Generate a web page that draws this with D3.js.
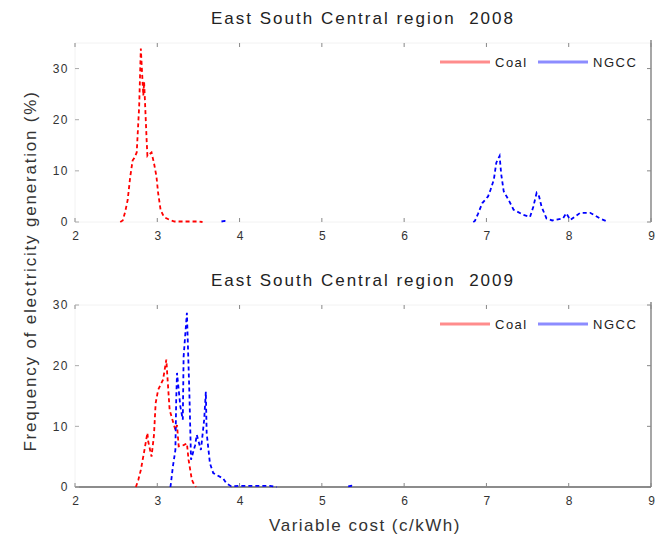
<!DOCTYPE html>
<html><head><meta charset="utf-8">
<script src="https://cdn.jsdelivr.net/npm/d3@7"></script>
<style>body{margin:0;background:#fff}svg{font-family:"Liberation Sans",Arial,sans-serif}text{white-space:pre}</style>
</head><body><svg id="c" width="657" height="543"></svg>
<script>
const xTicks = [2,3,4,5,6,7,8,9];
const yTicksTop = [0,10,20,30];
const yTicksBottom = [0,10,20,30];
const titles = ["East South Central region  2008", "East South Central region  2009"];
const seriesNames = ["Coal", "NGCC"];
const seriesColors = ["#ff0000", "#0000ff"];

// null marks a gap in a series
const coal2008X = [2.55,2.58,2.61,2.64,2.67,2.70,2.72,2.75,2.78,2.80,2.83,2.84,2.87,2.88,2.93,2.96,2.99,3.01,3.04,3.08,3.15,3.21,3.30,3.40,3.50,3.55];
const coal2008Y = [0,0.3,2,4.3,8.7,12,12.5,13.6,22.7,33.9,24.7,27.4,16.2,12.9,13.6,11.5,8.9,5.7,2.4,1.0,0.4,0.1,0.1,0.1,0.1,0];
const ngcc2008X = [3.78,3.82,3.86,5.0,6.84,6.86,6.90,6.95,7.02,7.05,7.09,7.12,7.16,7.18,7.21,7.27,7.33,7.45,7.53,7.57,7.61,7.64,7.67,7.73,7.80,7.93,7.97,8.02,8.14,8.26,8.38,8.48];
const ngcc2008Y = [0.1,0.2,0.1,null,0,0.2,1.7,3.7,5,6.3,8.3,11.6,12.9,9.3,6,4.3,2.4,1.4,1,3,5.7,5,3,0.7,0.3,0.7,1.7,0.4,1.8,1.8,0.7,0];
const coal2009X = [2.74,2.77,2.80,2.84,2.88,2.89,2.93,2.96,2.98,3.01,3.07,3.11,3.12,3.15,3.22,3.24,3.26,3.32,3.36,3.38,3.42,3.44,3.47];
const coal2009Y = [0,1.2,2.8,5.8,8.9,7.5,5,8.6,13.8,16,17.7,21,18.8,12.7,9.4,10.2,6.7,6.9,7.2,4.5,1.2,0.6,0];
const ngcc2009X = [3.16,3.19,3.22,3.23,3.24,3.28,3.31,3.32,3.36,3.39,3.41,3.46,3.48,3.53,3.57,3.59,3.60,3.64,3.68,3.80,3.84,3.90,4.00,4.20,4.37,4.45,4.9,5.32,5.36,5.40];
const ngcc2009Y = [0,3.4,6.1,14.4,18.8,13.3,11.1,21.5,28.7,15.5,4.5,6.9,8.6,6.1,11.1,15.7,8.9,3.9,2.3,1.4,0.6,0.1,0.2,0.2,0.2,0,null,0.1,0.2,0.1];

const panels = [
  {title: titles[0], yMax: 35, yTicks: yTicksTop, top: 43, bottom: 222, series: [[coal2008X, coal2008Y],[ngcc2008X, ngcc2008Y]], showXAxisLine: false},
  {title: titles[1], yMax: 30, yTicks: yTicksBottom, top: 305, bottom: 487, series: [[coal2009X, coal2009Y],[ngcc2009X, ngcc2009Y]], showXAxisLine: true}
];

const svg = d3.select("#c");
const left = 75, right = 651;
const x = d3.scaleLinear().domain([2,9]).range([left,right]);

panels.forEach(p => {
  const y = d3.scaleLinear().domain([0,p.yMax]).range([p.bottom,p.top]);
  const g = svg.append("g");
  g.append("line").attr("x1",left).attr("x2",right).attr("y1",p.top).attr("y2",p.top).attr("stroke","#f2f2f2");
  g.append("line").attr("x1",left).attr("x2",left).attr("y1",p.top).attr("y2",p.bottom).attr("stroke","#f2f2f2");
  g.append("line").attr("x1",right).attr("x2",right).attr("y1",p.top-3).attr("y2",p.bottom).attr("stroke","#777").attr("stroke-width",1.3);
  g.append("line").attr("x1",left).attr("x2",right).attr("y1",p.bottom).attr("y2",p.bottom)
    .attr("stroke", p.showXAxisLine ? "#666" : "#f2f2f2").attr("stroke-width", p.showXAxisLine ? 1.5 : 1);
  const xa = d3.axisBottom(x).tickValues(xTicks).tickSize(0).tickPadding(9).tickFormat(d3.format("d"));
  const xg = g.append("g").attr("transform",`translate(0,${p.bottom})`).call(xa);
  xg.select(".domain").remove();
  xg.selectAll("text").attr("font-size",12).attr("fill","#333").attr("font-family","Liberation Sans, Arial");
  xTicks.forEach(t => {
    g.append("line").attr("x1",x(t)).attr("x2",x(t)).attr("y1",p.bottom).attr("y2",p.bottom-4).attr("stroke","#888");
    g.append("line").attr("x1",x(t)).attr("x2",x(t)).attr("y1",p.top).attr("y2",p.top+4).attr("stroke","#888");
  });
  const ya = d3.axisLeft(y).tickValues(p.yTicks).tickSize(0).tickPadding(6).tickFormat(d3.format("d"));
  const yg = g.append("g").attr("transform",`translate(${left},0)`).call(ya);
  yg.select(".domain").remove();
  yg.selectAll("text").attr("font-size",12).attr("letter-spacing",1.5).attr("fill","#333").attr("font-family","Liberation Sans, Arial");
  p.yTicks.forEach(t => {
    g.append("line").attr("x1",left).attr("x2",left+4).attr("y1",y(t)).attr("y2",y(t)).attr("stroke","#aaa");
    g.append("line").attr("x1",right).attr("x2",right-4).attr("y1",y(t)).attr("y2",y(t)).attr("stroke","#888");
  });
  g.append("text").attr("x",(left+right)/2).attr("y",p.top-19).attr("text-anchor","middle")
    .attr("font-size",17).attr("letter-spacing",2).attr("fill","#222").text(p.title);
  const line = d3.line().defined(d => d[1] != null).x(d=>x(d[0])).y(d=>y(d[1]));
  p.series.forEach((s,i) => {
    const pts = s[0].map((v,k)=>[v,s[1][k]]);
    g.append("path").datum(pts).attr("d",line).attr("fill","none")
      .attr("stroke",seriesColors[i]).attr("stroke-width",1.8).attr("stroke-dasharray","4,3");
  });
  const ly = p.top + 19;
  const lx = [440, 538];
  seriesNames.forEach((n,i) => {
    g.append("line").attr("x1",lx[i]).attr("x2",lx[i]+50).attr("y1",ly).attr("y2",ly)
      .attr("stroke",seriesColors[i]).attr("stroke-opacity",0.45).attr("stroke-width",3);
    g.append("text").attr("x",lx[i]+55).attr("y",ly+5).attr("font-size",13).attr("letter-spacing",1.5).attr("fill","#222").text(n);
  });
});

svg.append("text").attr("x",(left+right)/2 + 2).attr("y",531).attr("text-anchor","middle")
  .attr("font-size",17).attr("letter-spacing",1.5).attr("fill","#333").text("Variable cost (c/kWh)");
svg.append("text").attr("transform","translate(36,271) rotate(-90)").attr("text-anchor","middle")
  .attr("font-size",17).attr("letter-spacing",1.8).attr("fill","#333").text("Frequency of electricity generation (%)");
</script></body></html>
